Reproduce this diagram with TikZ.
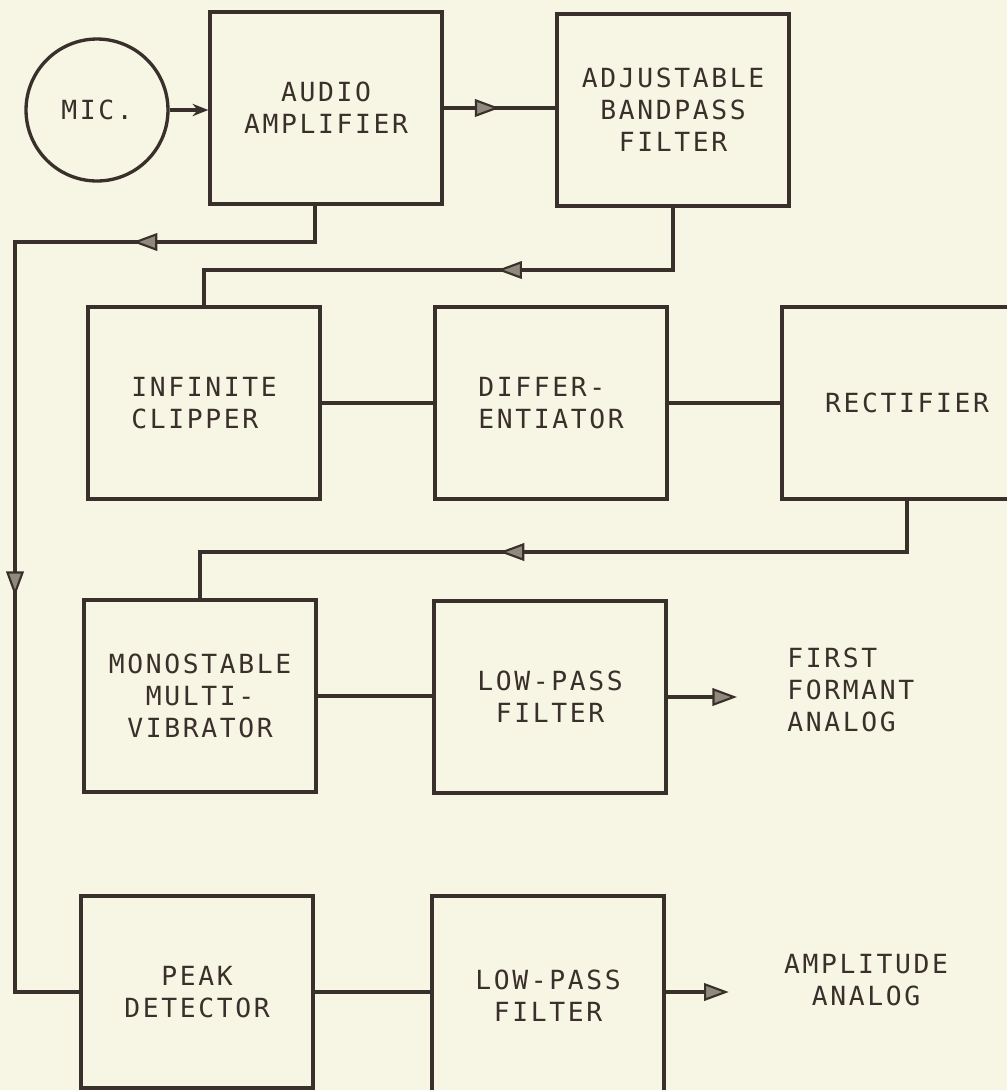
\documentclass[tikz,border=0pt]{standalone}
\usepackage{fontspec}
\newfontfamily\plotfont{DejaVu Sans Mono}[LetterSpace=10]
\usetikzlibrary{arrows.meta, decorations.markings, calc}

\definecolor{ink}{HTML}{3A302B}
\definecolor{paper}{HTML}{F7F5E3}

\tikzset{
  block/.style={draw=ink, line width=1.9pt, minimum width=4.64cm, minimum height=3.84cm,
    inner sep=0pt, text=ink, align=center, font=\plotfont\fontsize{15}{18.2}\selectfont},
  outlabel/.style={text=ink, inner sep=0pt, font=\plotfont\fontsize{15}{18.2}\selectfont},
  wire/.style={draw=ink, color=ink, line width=1.9pt},
  flowtip/.tip={Triangle[length=14pt, width=10pt, fill=ink!55!paper, line width=1.2pt]},
  midtip/.style={postaction={decorate, decoration={markings, mark=at position #1 with {\arrow{flowtip}}}}},
}

\begin{document}
\begin{tikzpicture}[x=0.02cm, y=-0.02cm]

    % 1. Papier
    \fill[paper] (0,0) rectangle (1007,1090);
    \useasboundingbox (0,0) rectangle (1007,1090);

    % 2. Bloecke
    \node[block, circle, minimum size=2.84cm] (mic) at (97,110) {MIC.};
    \node[block] (audio) at (326,108) {AUDIO\\AMPLIFIER};
    \node[block] (adj) at (673,110) {ADJUSTABLE\\BANDPASS\\FILTER};

    \node[block, align=left] (clip) at (204,403) {INFINITE\\CLIPPER};
    \node[block, align=left] (diff) at (551,403) {DIFFER-\\ENTIATOR};
    \node[block, minimum width=5cm] (rect) at (907,403) {RECTIFIER};

    \node[block] (mono) at (200,696) {MONOSTABLE\\MULTI-\\VIBRATOR};
    \node[block] (lpa) at (550,697) {LOW-PASS\\FILTER};
    \node[outlabel, anchor=west, align=left] (first) at (787,690) {FIRST\\FORMANT\\ANALOG};

    \node[block] (peak) at (197,992) {PEAK\\DETECTOR};
    \node[block, minimum height=4cm] (lpb) at (548,996) {LOW-PASS\\FILTER};
    \node[outlabel, align=center] (ampl) at (866,980) {AMPLITUDE\\ANALOG};

    % 3. Hilfspunkte der Rueckfuehrungen
    \coordinate (fbA) at (15,242);
    \coordinate (fbB) at (15,992);
    \coordinate (fbC) at (204,270);
    \coordinate (fbD) at (200,552);

    % 4. Verbindungen
    \draw[wire, -{Stealth[length=9pt, width=7pt]}] (mic.east) -- (mic.east -| audio.west);
    \draw[wire, midtip=0.5] (audio.east) -- (audio.east -| adj.west);
    \draw[wire, midtip=0.19, midtip=0.60] ([xshift=-0.22cm]audio.south) |- (fbA) -- (fbB) -- (peak.west);
    \draw[wire, midtip=0.42] (adj.south) |- (fbC) -- (clip.north);

    \draw[wire] (clip.east) -- (diff.west);
    \draw[wire] (diff.east) -- (rect.west);
    \draw[wire, midtip=0.57] (rect.south) |- (fbD) -- (mono.north);

    \draw[wire] (mono.east) -- (mono.east -| lpa.west);
    \draw[wire, -flowtip, shorten >=1cm] (lpa.east) -- (lpa.east -| first.west);

    \draw[wire] (peak.east) -- (peak.east -| lpb.west);
    \draw[wire, -flowtip, shorten >=1.1cm] (lpb.east |- peak.east) -- (peak.east -| ampl.west);

\end{tikzpicture}
\end{document}
